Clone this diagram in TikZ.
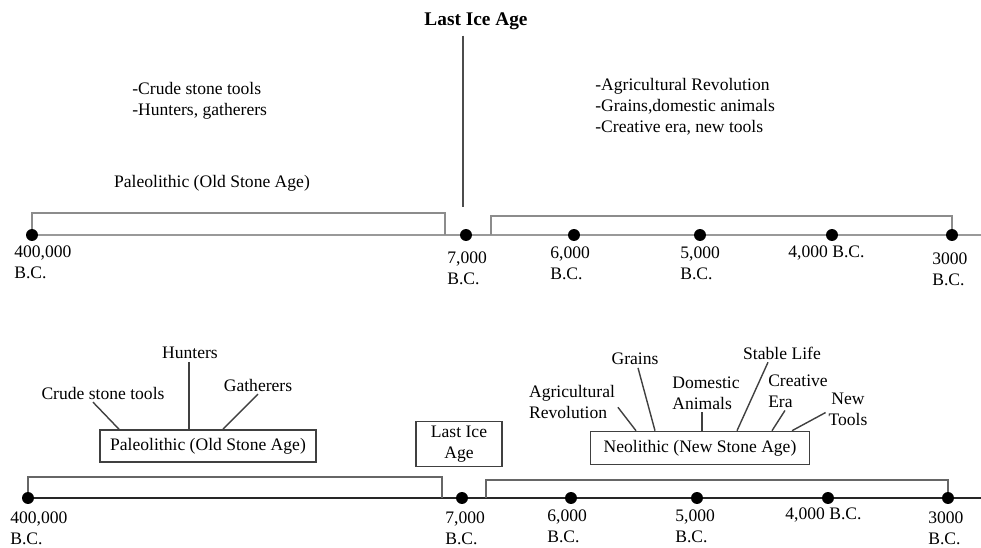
\documentclass[tikz,border=0pt]{standalone}
\usepackage{fontspec}
\setmainfont{Liberation Serif}
\usetikzlibrary{positioning}

\begin{document}
\begin{tikzpicture}[x=0.02cm, y=-0.02cm, font=\fontsize{10}{12}\selectfont,
	dot/.style={circle, fill=black, inner sep=0pt, minimum size=6.8pt},
	yr/.style={align=left, anchor=west, inner sep=0pt},
	note/.style={align=center, inner sep=1.5pt},
	box/.style={draw=black!75, line width=0.9pt, align=center, inner sep=0pt}]
	\useasboundingbox (0,0) rectangle (981,548);

	% upper time line
	\foreach \n/\x in {400/32, 7000/466, 6000/574, 5000/700, 4000/832, 3000/952}
		\node[dot] (t\n) at (\x,235) {};
	\coordinate (tend) at (981,235);
	\draw[black!40, line width=1.5pt] (t400) -- (t7000) -- (t6000) -- (t5000) -- (t4000) -- (t3000) -- (tend);
	\draw[black!45, line width=1pt] (t400.north) |- (445,213) -- (445,235);
	\draw[black!45, line width=1pt] (491,235) |- (952,216) -- (t3000.north);

	\node[yr] (tl400) at (14,262) {400,000\\B.C.};
	\node[yr] (tl7000) at (447,268) {7,000\\B.C.};
	\node[yr] (tl6000) at (550,263) {6,000\\B.C.};
	\node[yr] (tl5000) at (680,263) {5,000\\B.C.};
	\node[yr] (tl4000) at (788,253) {4,000 B.C.};
	\node[yr] (tl3000) at (932,269) {3000\\B.C.};

	\node[font=\bfseries\fontsize{11}{13}\selectfont] (ice) at (476,21) {Last Ice Age};
	\coordinate (iceend) at (463,207);
	\draw[black!70, line width=0.9pt] (ice.south -| iceend) -- (iceend);

	\node[yr] (paleonote) at (132,101) {-Crude stone tools\\-Hunters, gatherers};
	\node[note] (paleo) at (212,183) {Paleolithic (Old Stone Age)};
	\node[yr] (neonote) at (595,107) {-Agricultural Revolution\\-Grains,domestic animals\\-Creative era, new tools};

	% lower time line
	\foreach \n/\x in {400/28, 7000/462, 6000/571, 5000/697, 4000/828, 3000/948}
		\node[dot] (b\n) at (\x,498) {};
	\coordinate (bend) at (981,498);
	\draw[black!85, line width=1pt] (b400) -- (b7000) -- (b6000) -- (b5000) -- (b4000) -- (b3000) -- (bend);
	\draw[black!60, line width=0.9pt] (b400.north) |- (442,477) -- (442,498);
	\draw[black!60, line width=0.9pt] (486,498) |- (948,480) -- (b3000.north);

	\node[yr] (bl400) at (10,528) {400,000\\B.C.};
	\node[yr] (bl7000) at (445,528) {7,000\\B.C.};
	\node[yr] (bl6000) at (547,526) {6,000\\B.C.};
	\node[yr] (bl5000) at (675,526) {5,000\\B.C.};
	\node[yr] (bl4000) at (785,515) {4,000 B.C.};
	\node[yr] (bl3000) at (928,528) {3000\\B.C.};

	\node[box, minimum width=4.32cm, minimum height=0.64cm] (oldbox) at (208,446) {Paleolithic (Old Stone Age)};
	\node[box, minimum width=1.72cm, minimum height=0.9cm] (icebox) at (459,444) {Last Ice\\Age};
	\node[box, minimum width=4.38cm, minimum height=0.66cm] (newbox) at (700,448) {Neolithic (New Stone Age)};

	\node[note] (crude) at (103,393) {Crude stone tools};
	\node[note] (hunt) at (190,353) {Hunters};
	\node[note] (gath) at (258,385) {Gatherers};
	\draw[black!75, line width=0.8pt] (crude.south -| 93,0) -- (oldbox.north -| 119,0);
	\draw[black!75, line width=0.8pt] (hunt.south -| 189,0) -- (oldbox.north -| 189,0);
	\draw[black!75, line width=0.8pt] (gath.south -| 258,0) -- (oldbox.north -| 223,0);

	\node[note, align=left] (agri) at (572,402) {Agricultural\\Revolution};
	\node[note] (grain) at (635,359) {Grains};
	\node[note, align=left] (dom) at (706,393) {Domestic\\Animals};
	\node[note] (stable) at (782,353) {Stable Life};
	\node[note, align=left] (creat) at (798,391) {Creative\\Era};
	\node[note] (newt) at (848,409) {New\\Tools};
	\draw[black!75, line width=0.8pt] ([yshift=-3pt]agri.east) -- (newbox.north -| 636,0);
	\draw[black!75, line width=0.8pt] (grain.south -| 638,0) -- (newbox.north -| 655,0);
	\draw[black!75, line width=0.8pt] (dom.south -| 702,0) -- (newbox.north -| 702,0);
	\draw[black!75, line width=0.8pt] (stable.south -| 768,0) -- (newbox.north -| 737,0);
	\draw[black!75, line width=0.8pt] (creat.south -| 785,0) -- (newbox.north -| 772,0);
	\draw[black!75, line width=0.8pt] ([yshift=-2pt]newt.west) -- (newbox.north -| 792,0);
\end{tikzpicture}
\end{document}
